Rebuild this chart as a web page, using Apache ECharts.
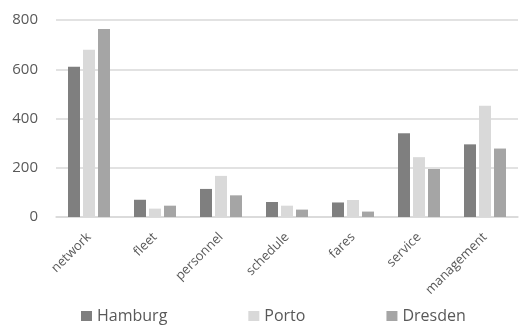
<!DOCTYPE html>
<html><head><meta charset="utf-8">
<script src="https://cdn.jsdelivr.net/npm/echarts@6/dist/echarts.min.js"></script>
<style>html,body{margin:0;padding:0;background:#fff}#c{width:520px;height:327px}</style>
</head><body><div id="c"></div>
<script>
const categories = ['network','fleet','personnel','schedule','fares','service','management'];
const hamburg = [610, 70, 114, 61, 59, 340, 295];
const porto = [679, 34, 167, 46, 69, 243, 452];
const dresden = [763, 46, 88, 30, 22, 195, 278];
const yTicks = [0, 200, 400, 600, 800];

const font = '"Open Sans", sans-serif';
const chart = echarts.init(document.getElementById('c'), null, {renderer:'canvas'});
chart.setOption({
  animation: false,
  grid: {left: 56, right: 2, top: 20, bottom: 110, containLabel: false},
  legend: {
    left: 81, top: 308, padding: 0, itemWidth: 11, itemHeight: 10, itemGap: 81,
    icon: 'rect',
    textStyle: {color: '#595959', fontSize: 16, fontFamily: font},
    data: ['Hamburg','Porto','Dresden']
  },
  xAxis: {
    type: 'category', data: categories,
    axisLine: {lineStyle: {color: '#d9d9d9', width: 1.5}},
    axisTick: {show: false},
    axisLabel: {rotate: 45, color: '#595959', fontSize: 13, fontFamily: font, margin: 18, interval: 0}
  },
  yAxis: {
    type: 'value', min: yTicks[0], max: yTicks[yTicks.length-1], interval: 200,
    axisLine: {show: false}, axisTick: {show: false},
    splitLine: {lineStyle: {color: '#d9d9d9', width: 1.5}},
    axisLabel: {color: '#595959', fontSize: 15, fontFamily: font, margin: 18}
  },
  series: [
    {name: 'Hamburg', type: 'bar', data: hamburg, barWidth: 12, barGap: '25%', itemStyle: {color: '#7f7f7f'}},
    {name: 'Porto', type: 'bar', data: porto, barWidth: 12, barGap: '25%', itemStyle: {color: '#d9d9d9'}},
    {name: 'Dresden', type: 'bar', data: dresden, barWidth: 12, barGap: '25%', itemStyle: {color: '#a5a5a5'}}
  ]
});
</script></body></html>
